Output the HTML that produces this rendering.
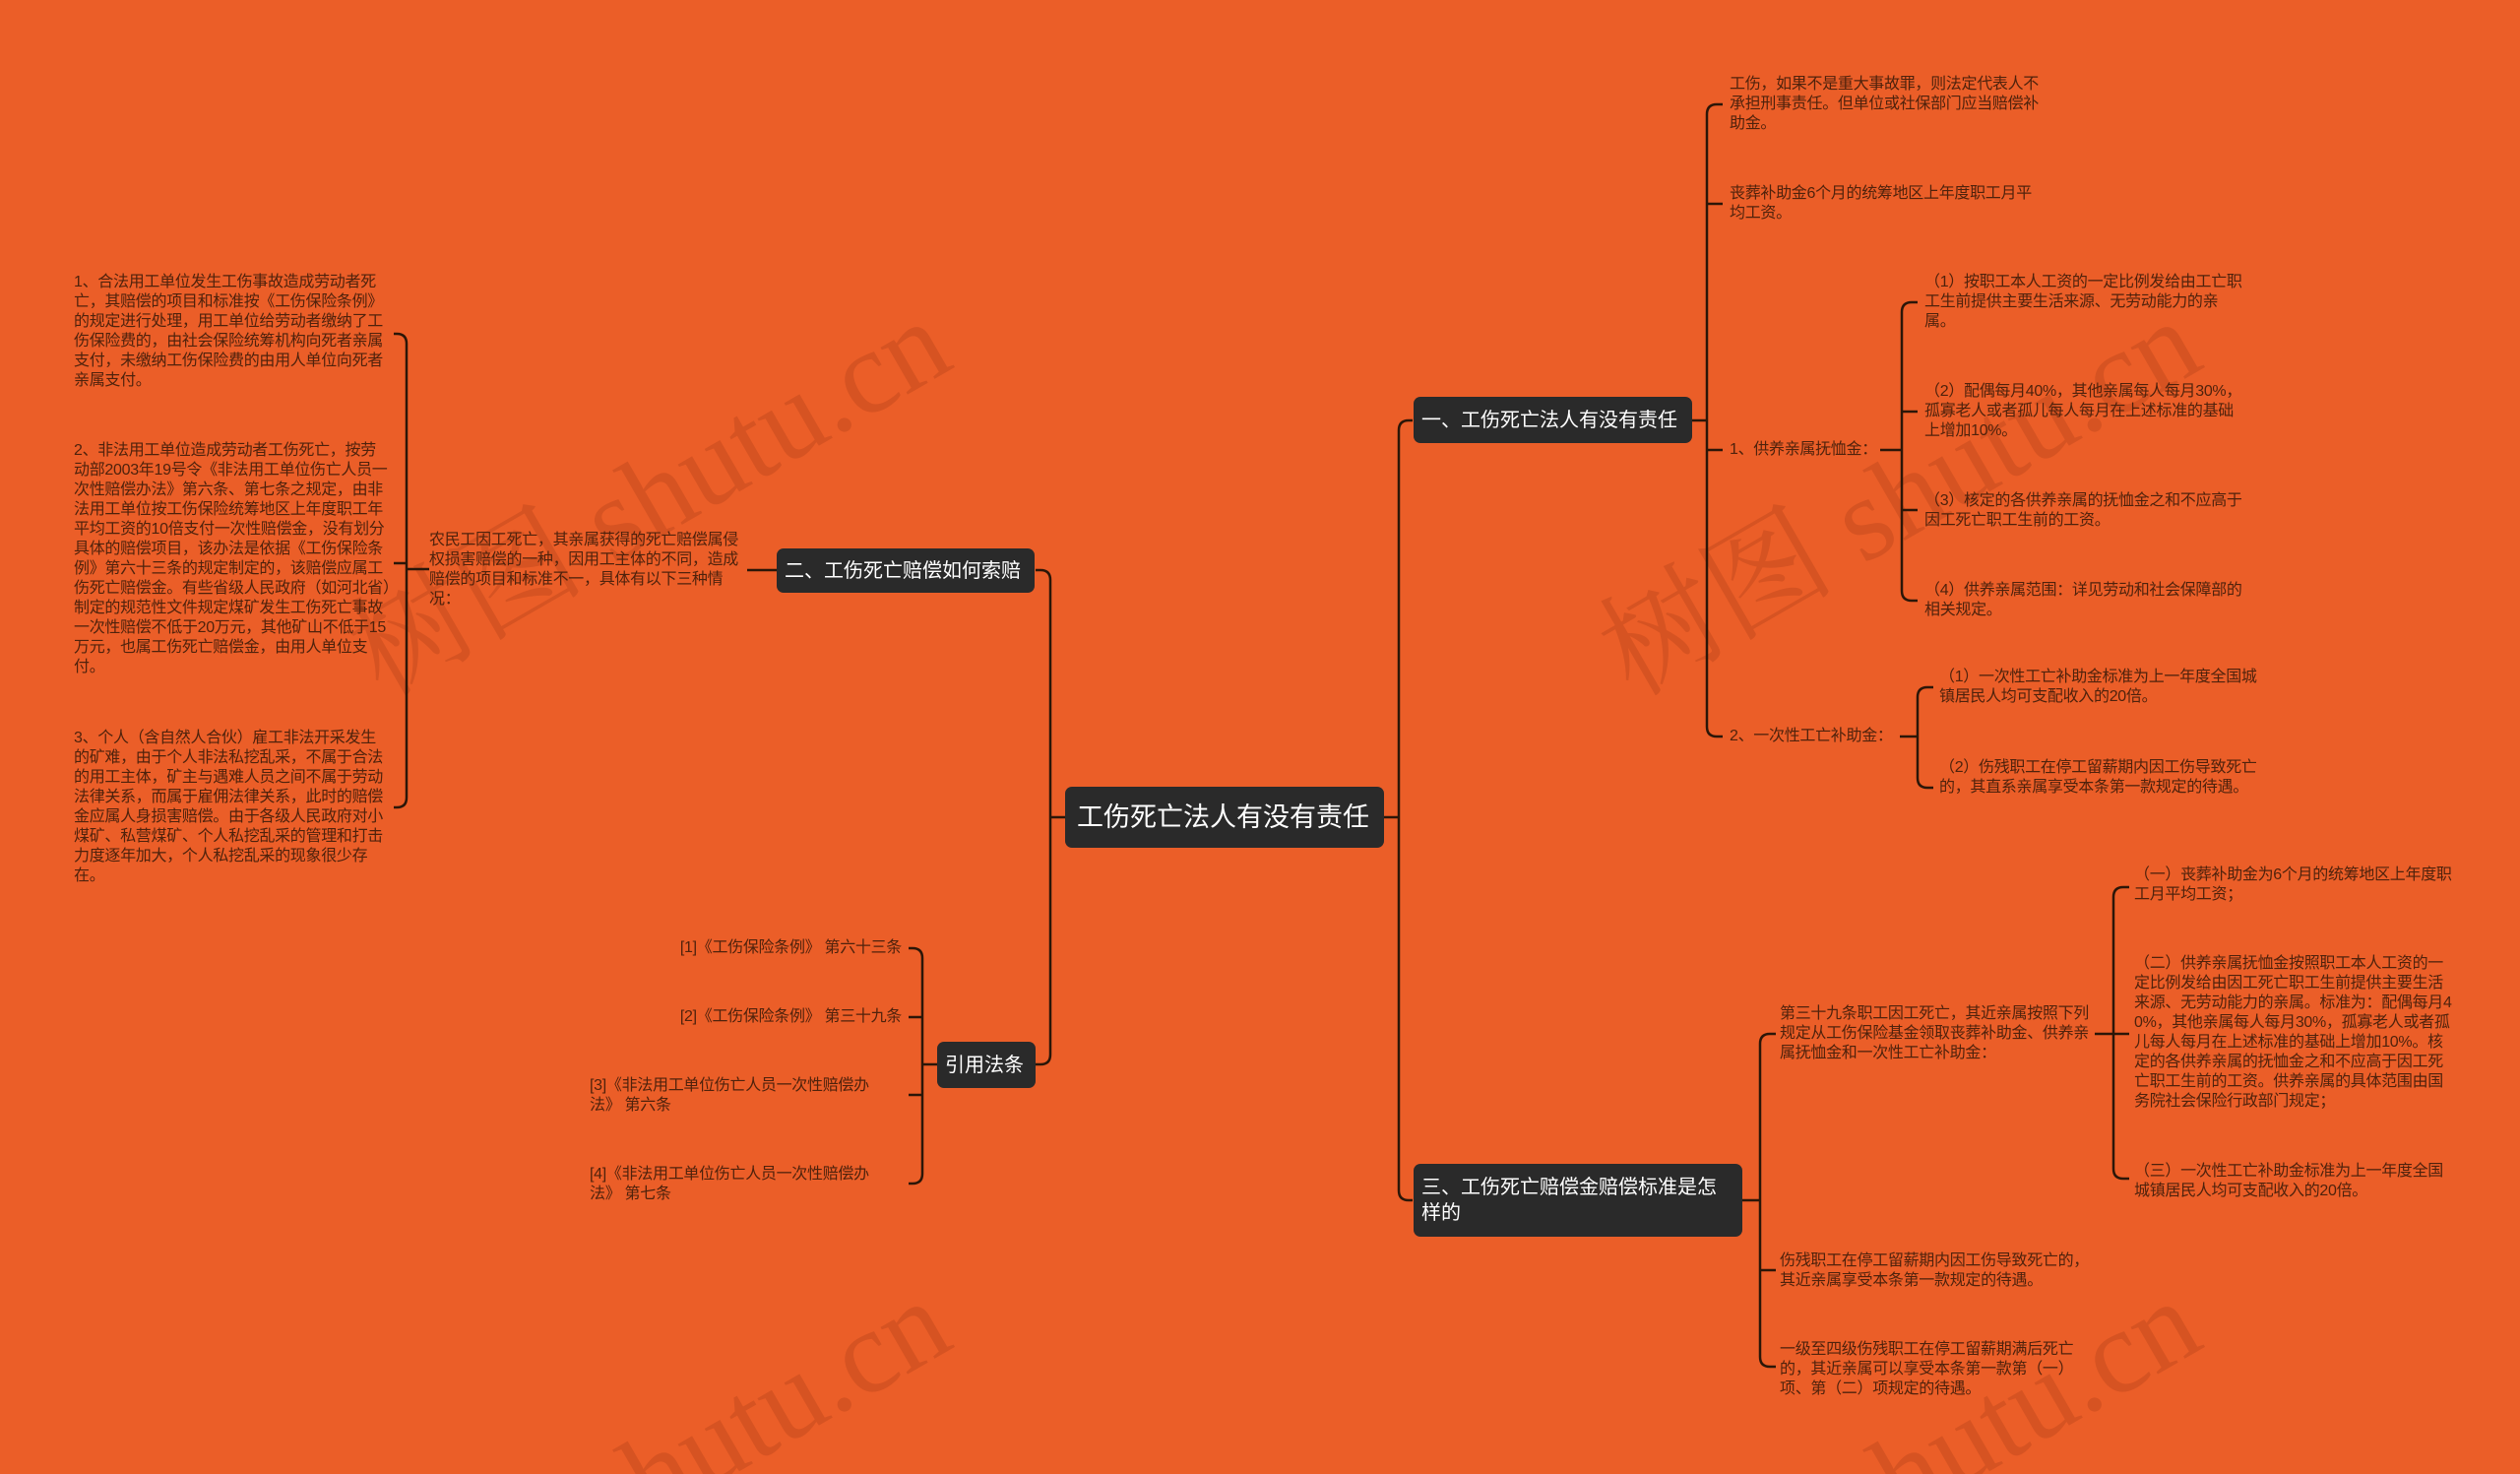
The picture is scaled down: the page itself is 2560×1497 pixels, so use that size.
<!DOCTYPE html>
<html style="overflow:hidden;width:2560px;height:1497px"><head><meta charset="utf-8">
<style>
html,body{margin:0;padding:0}
body{width:2560px;height:1497px;background:#EB5E28;position:relative;overflow:hidden;font-family:"Liberation Sans","Noto Sans CJK SC",sans-serif}
#wrap{position:absolute;left:0;top:0;width:2560px;height:1497px;overflow:hidden}
.t{position:absolute;font-size:16px;line-height:20px;color:#4f220c;word-break:break-all;letter-spacing:-0.3px}
.b{position:absolute;background:#2a2a2a;color:#fff;border-radius:7px;box-sizing:border-box;font-size:20px;line-height:26px;padding:0 8px;display:flex;align-items:center;white-space:nowrap}
.wm{position:absolute;font-family:"Liberation Serif","Noto Serif CJK SC",serif;font-size:120px;color:rgba(140,45,15,0.22);transform:rotate(-30deg);white-space:nowrap;transform-origin:left top}
svg{position:absolute;left:0;top:0}
</style></head><body><div id="wrap">
<div class="wm" style="left:320px;top:590px">树图 shutu.cn</div>
<div class="wm" style="left:1590px;top:590px">树图 shutu.cn</div>
<div class="wm" style="left:320px;top:1585px">树图 shutu.cn</div>
<div class="wm" style="left:1590px;top:1585px">树图 shutu.cn</div>

<svg width="2560" height="1497" fill="none" stroke="#2b1608" stroke-width="2.5">
<path d="M1406 830 H1421"/>
<path d="M1435 427 H1431 Q1421 427 1421 437 V1209 Q1421 1219 1431 1219 H1435"/>
<path d="M1082 830 H1067"/>
<path d="M1052 579 H1057 Q1067 579 1067 589 V1071 Q1067 1081 1057 1081 H1052"/>
<path d="M1719 427 H1734"/>
<path d="M1750 106 H1744 Q1734 106 1734 116 V738 Q1734 748 1744 748 H1750"/>
<path d="M1734 207 H1750"/><path d="M1734 457 H1750"/>
<path d="M1910 457 H1932"/>
<path d="M1948 307 H1942 Q1932 307 1932 317 V600 Q1932 610 1942 610 H1948"/>
<path d="M1932 418 H1948"/><path d="M1932 518 H1948"/>
<path d="M1930 748 H1948"/>
<path d="M1964 698 H1958 Q1948 698 1948 708 V790 Q1948 800 1958 800 H1964"/>
<path d="M789 579 H759"/>
<path d="M436 578 H413"/>
<path d="M400 339 H403 Q413 339 413 349 V810 Q413 820 403 820 H400"/>
<path d="M413 572 H400"/>
<path d="M952 1081 H937"/>
<path d="M923 963 H927 Q937 963 937 973 V1192 Q937 1202 927 1202 H923"/>
<path d="M937 1033 H923"/><path d="M937 1112 H923"/>
<path d="M1770 1219 H1788"/>
<path d="M1804 1050 H1798 Q1788 1050 1788 1060 V1378 Q1788 1388 1798 1388 H1804"/>
<path d="M1788 1290 H1804"/>
<path d="M2128 1050 H2147"/>
<path d="M2163 901 H2157 Q2147 901 2147 911 V1187 Q2147 1197 2157 1197 H2163"/>
<path d="M2147 1050 H2163"/>
</svg>

<div class="b" style="left:1082px;top:799px;width:324px;height:62px;font-size:27px;padding:0 12px">工伤死亡法人有没有责任</div>
<div class="b" style="left:1436px;top:403px;width:283px;height:47px">一、工伤死亡法人有没有责任</div>
<div class="b" style="left:789px;top:557px;width:262px;height:45px">二、工伤死亡赔偿如何索赔</div>
<div class="b" style="left:952px;top:1058px;width:100px;height:47px">引用法条</div>
<div class="b" style="left:1436px;top:1182px;width:334px;height:74px;white-space:normal">三、工伤死亡赔偿金赔偿标准是怎样的</div>

<div class="t" style="left:1757px;top:76px;width:322px">工伤，如果不是重大事故罪，则法定代表人不承担刑事责任。但单位或社保部门应当赔偿补助金。</div>
<div class="t" style="left:1757px;top:187px;width:322px">丧葬补助金6个月的统筹地区上年度职工月平均工资。</div>
<div class="t" style="left:1757px;top:447px;width:200px">1、供养亲属抚恤金：</div>
<div class="t" style="left:1955px;top:277px;width:326px">（1）按职工本人工资的一定比例发给由工亡职工生前提供主要生活来源、无劳动能力的亲属。</div>
<div class="t" style="left:1955px;top:388px;width:326px">（2）配偶每月40%，其他亲属每人每月30%，孤寡老人或者孤儿每人每月在上述标准的基础上增加10%。</div>
<div class="t" style="left:1955px;top:499px;width:326px">（3）核定的各供养亲属的抚恤金之和不应高于因工死亡职工生前的工资。</div>
<div class="t" style="left:1955px;top:590px;width:326px">（4）供养亲属范围：详见劳动和社会保障部的相关规定。</div>
<div class="t" style="left:1757px;top:738px;width:200px">2、一次性工亡补助金：</div>
<div class="t" style="left:1970px;top:678px;width:326px">（1）一次性工亡补助金标准为上一年度全国城镇居民人均可支配收入的20倍。</div>
<div class="t" style="left:1970px;top:770px;width:326px">（2）伤残职工在停工留薪期内因工伤导致死亡的，其直系亲属享受本条第一款规定的待遇。</div>

<div class="t" style="left:436px;top:539px;width:322px">农民工因工死亡，其亲属获得的死亡赔偿属侵权损害赔偿的一种，因用工主体的不同，造成赔偿的项目和标准不一，具体有以下三种情况：</div>
<div class="t" style="left:75px;top:277px;width:322px">1、合法用工单位发生工伤事故造成劳动者死亡，其赔偿的项目和标准按《工伤保险条例》的规定进行处理，用工单位给劳动者缴纳了工伤保险费的，由社会保险统筹机构向死者亲属支付，未缴纳工伤保险费的由用人单位向死者亲属支付。</div>
<div class="t" style="left:75px;top:448px;width:322px">2、非法用工单位造成劳动者工伤死亡，按劳动部2003年19号令《非法用工单位伤亡人员一次性赔偿办法》第六条、第七条之规定，由非法用工单位按工伤保险统筹地区上年度职工年平均工资的10倍支付一次性赔偿金，没有划分具体的赔偿项目，该办法是依据《工伤保险条例》第六十三条的规定制定的，该赔偿应属工伤死亡赔偿金。有些省级人民政府（如河北省）制定的规范性文件规定煤矿发生工伤死亡事故一次性赔偿不低于20万元，其他矿山不低于15万元，也属工伤死亡赔偿金，由用人单位支付。</div>
<div class="t" style="left:75px;top:740px;width:322px">3、个人（含自然人合伙）雇工非法开采发生的矿难，由于个人非法私挖乱采，不属于合法的用工主体，矿主与遇难人员之间不属于劳动法律关系，而属于雇佣法律关系，此时的赔偿金应属人身损害赔偿。由于各级人民政府对小煤矿、私营煤矿、个人私挖乱采的管理和打击力度逐年加大，个人私挖乱采的现象很少存在。</div>

<div class="t" style="left:600px;top:953px;width:316px;text-align:right">[1]《工伤保险条例》 第六十三条</div>
<div class="t" style="left:600px;top:1023px;width:316px;text-align:right">[2]《工伤保险条例》 第三十九条</div>
<div class="t" style="left:599px;top:1093px;width:310px">[3]《非法用工单位伤亡人员一次性赔偿办法》 第六条</div>
<div class="t" style="left:599px;top:1183px;width:310px">[4]《非法用工单位伤亡人员一次性赔偿办法》 第七条</div>

<div class="t" style="left:1808px;top:1020px;width:322px">第三十九条职工因工死亡，其近亲属按照下列规定从工伤保险基金领取丧葬补助金、供养亲属抚恤金和一次性工亡补助金：</div>
<div class="t" style="left:2168px;top:879px;width:326px">（一）丧葬补助金为6个月的统筹地区上年度职工月平均工资；</div>
<div class="t" style="left:2168px;top:969px;width:326px">（二）供养亲属抚恤金按照职工本人工资的一定比例发给由因工死亡职工生前提供主要生活来源、无劳动能力的亲属。标准为：配偶每月40%，其他亲属每人每月30%，孤寡老人或者孤儿每人每月在上述标准的基础上增加10%。核定的各供养亲属的抚恤金之和不应高于因工死亡职工生前的工资。供养亲属的具体范围由国务院社会保险行政部门规定；</div>
<div class="t" style="left:2168px;top:1180px;width:326px">（三）一次性工亡补助金标准为上一年度全国城镇居民人均可支配收入的20倍。</div>
<div class="t" style="left:1808px;top:1271px;width:322px">伤残职工在停工留薪期内因工伤导致死亡的，其近亲属享受本条第一款规定的待遇。</div>
<div class="t" style="left:1808px;top:1361px;width:322px">一级至四级伤残职工在停工留薪期满后死亡的，其近亲属可以享受本条第一款第（一）项、第（二）项规定的待遇。</div>
</div></body></html>
